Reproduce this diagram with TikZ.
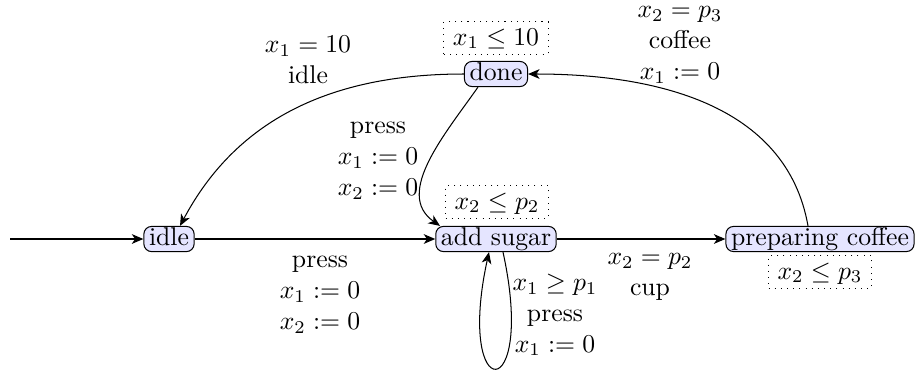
\documentclass[tikz,border=0pt]{standalone}
\usetikzlibrary{arrows.meta,calc}
\begin{document}
\begin{tikzpicture}[x=0.3891pt,y=0.3891pt,>={Stealth[length=4.5pt,width=3.8pt,inset=1.3pt]},
  state/.style={draw,rounded corners=3pt,fill=blue!10,inner xsep=2pt,inner ysep=0.5pt,text height=6.9pt,text depth=1.9pt},
  inv/.style={draw,dotted,inner xsep=3.5pt,inner ysep=1.5pt,text height=7.5pt,text depth=2pt},
  lbl/.style={align=center}]
\useasboundingbox (0,0) rectangle (923,371);
\node[state] (idle) at (169,132) {idle};
\node[state] (as) at (496,132) {add sugar};
\node[state] (pc) at (820,132) {preparing coffee};
\node[state] (done) at (496,297) {done};
\coordinate (start) at (10,132);
\node[inv] (invdone) at (496,333) {$x_1 \leq 10$};
\node[inv] (invas) at (497,169) {$x_2 \leq p_2$};
\node[inv] (invpc) at (820,99) {$x_2 \leq p_3$};
\draw[->] (start) -- (idle);
\draw[->] (idle) -- (as);
\draw[->] (as) -- (pc);
\draw[->] ($(pc.north)+(-12,0)$) to[out=100,in=0] (done.east);
\draw[->] (done.west) to[out=180,in=62] ($(idle.north)+(11,0)$);
\draw[->] ($(done.south)+(-18,0)$) to[out=235,in=145] ($(as.north)+(-56,0)$);
\draw[->] ($(as.south)+(7,0)$) .. controls +(34,-155) and +(-34,-155) .. ($(as.south)+(-7,0)$);
\node[lbl] (l1) at (320,76) {press\\$x_1 := 0$\\$x_2 := 0$};
\node[lbl] (l2) at (650,94) {$x_2 = p_2$\\cup};
\node[lbl] (l3) at (680,326) {$x_2 = p_3$\\coffee\\$x_1 := 0$};
\node[lbl] (l4) at (308,311) {$x_1 = 10$\\idle};
\node[lbl] (l5) at (378,210) {press\\$x_1 := 0$\\$x_2 := 0$};
\node[lbl] (l6) at (555,56) {$x_1 \geq p_1$\\press\\$x_1 := 0$};
\end{tikzpicture}
\end{document}
